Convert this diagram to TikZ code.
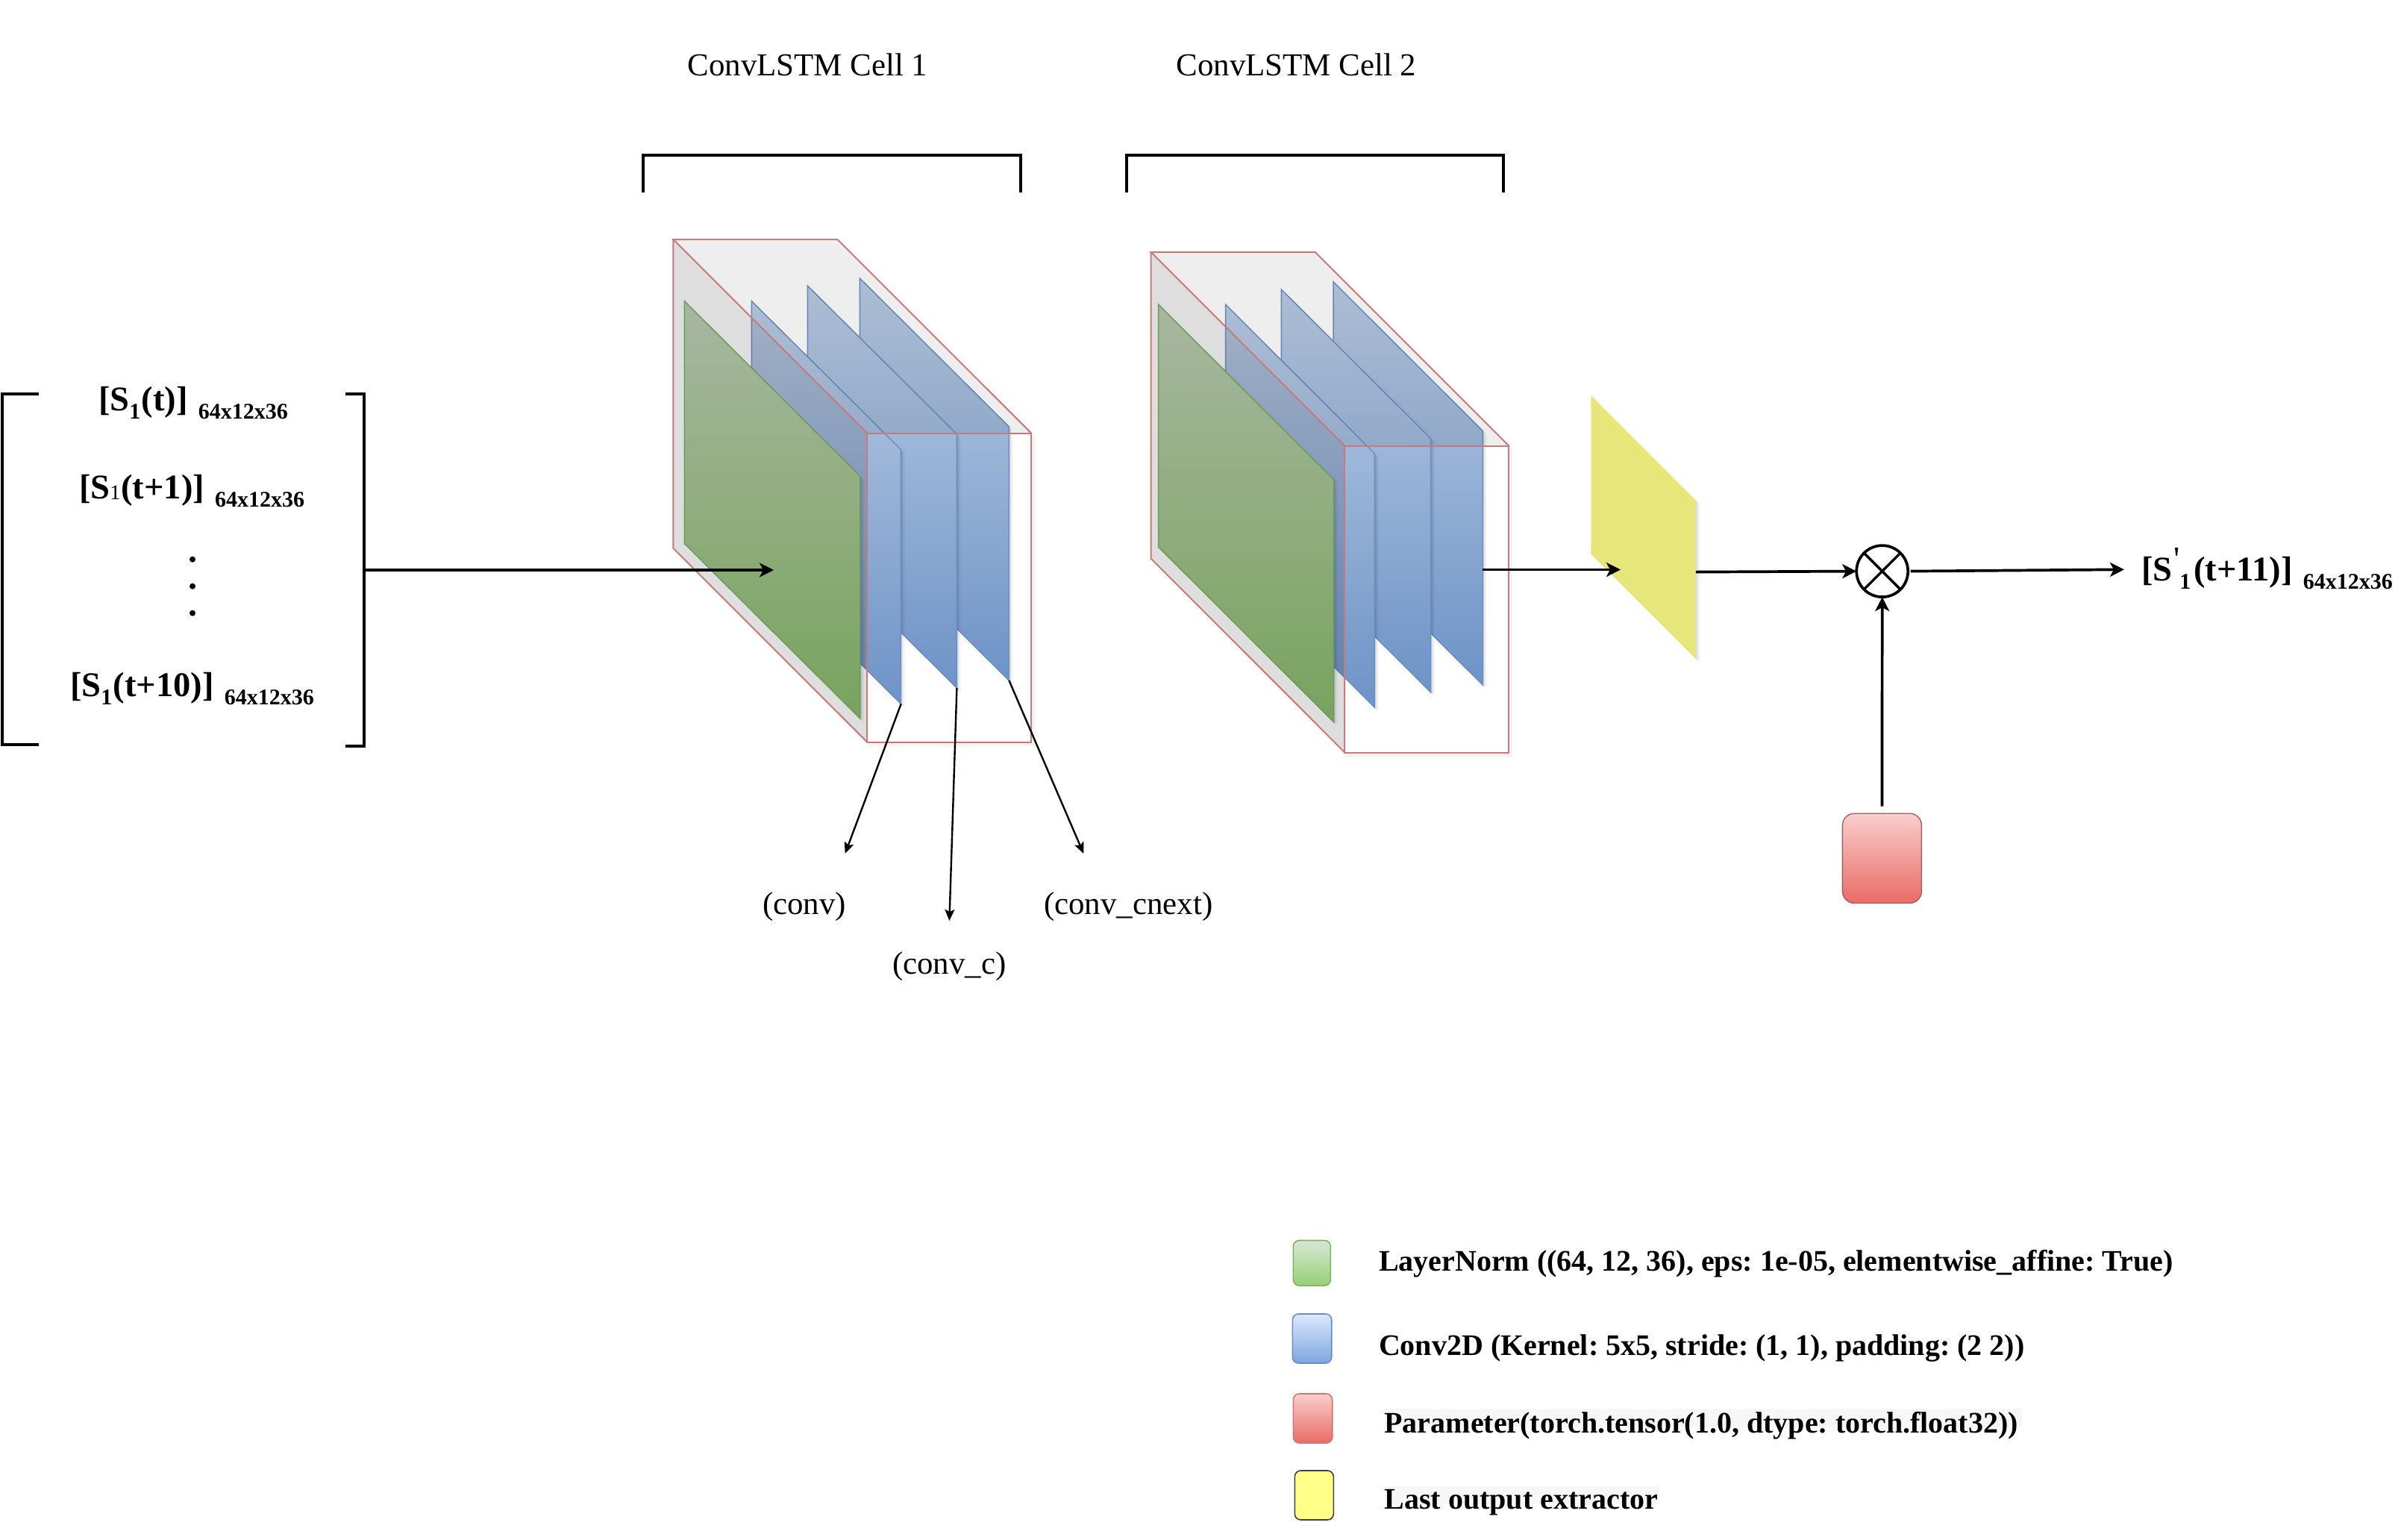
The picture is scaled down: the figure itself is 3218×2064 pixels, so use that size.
\documentclass[tikz,border=0pt]{standalone}
\usepackage{fontspec}
\setmainfont{Liberation Serif}
\usetikzlibrary{arrows.meta}
\frenchspacing
\newcommand{\fsz}[1]{\fontsize{#1}{#1}\selectfont}
\newcommand{\subone}{\raisebox{-11pt}{\fsz{30}1}\kern1.5pt}
\newcommand{\dims}{\hspace{14pt}\raisebox{-11pt}{\fsz{30}64x12x36}}
\definecolor{edgered}{HTML}{C97A78}
\definecolor{edgeblue}{HTML}{6C8EBF}
\definecolor{edgegreen}{HTML}{7FB06A}
\definecolor{blue1top}{HTML}{BACCE4}
\definecolor{blue1bot}{HTML}{6E93C7}
\definecolor{green1top}{HTML}{C1D3B8}
\definecolor{green1bot}{HTML}{8ABC6C}
\definecolor{greenK}{HTML}{D5E8D4}
\definecolor{greenL}{HTML}{97D077}
\definecolor{blueK}{HTML}{DAE8FC}
\definecolor{blueL}{HTML}{7EA6E0}
\definecolor{redK}{HTML}{F8CECC}
\definecolor{redL}{HTML}{EA6B66}
\definecolor{yellowK}{HTML}{FFFF88}
\definecolor{yellowP}{HTML}{E6E67A}
% plane: style, x1, y1, x2, y2, height
\newcommand{\plane}[6]{%
  \fill[black,opacity=.05] ({#2+5},{#3+#6+5}) -- ({#4+5},{#5+#6+5}) -- ({#4+5},{#5+5}) -- ({#4},{#5}) -- ({#2},{#3+#6}) -- cycle;
  \fill[black,opacity=.08] ({#2+2.5},{#3+#6+2.5}) -- ({#4+2.5},{#5+#6+2.5}) -- ({#4+2.5},{#5+2.5}) -- ({#4},{#5}) -- ({#2},{#3+#6}) -- cycle;
  \path[#1] (#2,#3) -- (#4,#5) -- ({#4},{#5+#6}) -- ({#2},{#3+#6}) -- cycle;
}
% translucent cube over the planes: back x, back top, back bottom, front x, front top, front bottom, width
\newcommand{\cubeover}[7]{%
  \fill[black,opacity=.13] (#1,#2) -- (#4,#5) -- (#4,#6) -- (#1,#3) -- cycle;
  \fill[black,opacity=.067] (#1,#2) -- ({#1+#7},#2) -- ({#4+#7},#5) -- (#4,#5) -- cycle;
  \draw[black,opacity=.05,line width=4pt] ({#4+3},{#6+3}) -- ({#4+#7+3},{#6+3}) -- ({#4+#7+3},{#5+3});
  \draw[cubeline] (#4,#5) -- (#1,#2) -- ({#1+#7},#2) -- ({#4+#7},#5);
  \draw[cubeline] (#1,#2) -- (#1,#3) -- (#4,#6);
  \draw[cubeline] (#4,#5) rectangle ({#4+#7},#6);
}
\tikzset{
  cubeline/.style={edgered,line width=2pt,line join=miter},
  blueplane/.style={top color=blue1top,bottom color=blue1bot,draw=edgeblue,line width=1.5pt},
  greenplane/.style={top color=green1top,bottom color=green1bot,draw=edgegreen,line width=1.5pt},
  lbl/.style={anchor=base west,inner sep=0pt,outer sep=0pt,text=black},
  headlabel/.style={lbl,font=\fsz{42.9}},
  mathlabel/.style={lbl,font=\fsz{46.5}\bfseries},
  legendlabel/.style={lbl,font=\fsz{40}\bfseries},
  bracketline/.style={line width=4pt,line cap=butt,line join=miter},
  thick arrow/.style={line width=3.7pt,-{Stealth[length=19pt,width=19pt,inset=5pt]}},
  thin arrow/.style={line width=2.4pt,-{Stealth[length=15pt,width=13pt,inset=3pt]}},
  legendkey/.style={rounded corners=8pt,inner sep=0pt,outer sep=0pt,line width=1.6pt,anchor=north west},
  greenkey/.style={legendkey,draw=#1,top color=greenK,bottom color=greenL,minimum width=50pt,minimum height=60.6pt},
  bluekey/.style={legendkey,draw=#1,top color=blueK,bottom color=blueL,minimum width=52.4pt,minimum height=66pt},
  redkey/.style={legendkey,draw=#1,top color=redK,bottom color=redL,minimum width=52.4pt,minimum height=66pt},
  yellowkey/.style={legendkey,draw=#1,fill=yellowK,minimum width=52pt,minimum height=66pt},
}
\begin{document}
\begin{tikzpicture}[x=1pt,y=-1pt]
\useasboundingbox (0,0) rectangle (3218,2064);

% Cell 1
\plane{blueplane}{1152.3}{372.9}{1352.4}{571.9}{340.3}
\plane{blueplane}{1082.3}{382.9}{1282.4}{581.8}{340.3}
\plane{blueplane}{1007.3}{403.5}{1207.4}{602.5}{340.8}
\plane{greenplane}{917.3}{403.5}{1152.8}{638}{325}
\cubeover{902.4}{320.9}{734.9}{1162.3}{580.7}{994.7}{220}

% Cell 2
\plane{blueplane}{1787.2}{377.9}{1987.4}{577.6}{340.7}
\plane{blueplane}{1717.4}{388}{1917.6}{587.7}{340.2}
\plane{blueplane}{1642.6}{408}{1842.3}{607.9}{340.2}
\plane{greenplane}{1552.6}{408}{1787.7}{642.8}{325.1}
\cubeover{1542.5}{337.8}{748.5}{1802.3}{597.5}{1008.5}{220}

% Last output extractor plane
\plane{fill=yellowP}{2132.4}{530.1}{2272.9}{670.6}{212.5}

% Top brackets and headings
\draw[bracketline] (862.4,257.7) -- (862.4,208.4) -- (1367.7,208.4) -- (1367.7,257.7);
\draw[bracketline] (1510.1,257.7) -- (1510.1,208.4) -- (2014.9,208.4) -- (2014.9,257.7);
\node[headlabel] (cellA) at (921.5,101) {ConvLSTM Cell 1};
\node[headlabel] (cellB) at (1576.5,101) {ConvLSTM Cell 2};

% Input matrix brackets
\draw[bracketline] (52,527.7) -- (3,527.7) -- (3,998) -- (52,998);
\draw[bracketline] (462.7,527.7) -- (488,527.7) -- (488,1000) -- (462.7,1000);
\coordinate (inR) at (488,764);
\node[mathlabel] (s0) at (132,550.5) {[S\subone(t)]\dims};
\node[mathlabel] (s1) at (106,668.5) {[S\raisebox{-1pt}{\fsz{28}\mdseries 1}\kern1pt(t+1)]\dims};
\node[mathlabel] (s2) at (94,933.5) {[S\subone(t+10)]\dims};
\fill (258,749.7) circle (4) (258,785.7) circle (4) (258,821.7) circle (4);

% Arrows through the cells
\coordinate (cellAin) at (1037,764);
\draw[thick arrow] (inR) -- (cellAin);
\coordinate (cellBout) at (1987.4,763.5);
\coordinate (yellowIn) at (2172,763.5);
\draw[thick arrow] (cellBout) -- (yellowIn);

% Multiplication
\node[draw,circle,minimum size=69pt,inner sep=0pt,outer sep=0pt,line width=3.7pt] (mult) at (2522.7,765.6) {};
\draw[line width=3.4pt] (mult.45) -- (mult.225) (mult.135) -- (mult.315);
\coordinate (yellowOut) at (2272.9,766.6);
\draw[thick arrow] (yellowOut) -- (mult.west);
\node[draw=edgered!80!black,rounded corners=16pt,inner sep=0pt,outer sep=0pt,line width=1.4pt,minimum width=106pt,minimum height=120.3pt,top color=redK,bottom color=redL,anchor=north west] (par) at (2469.4,1090.2) {};
\draw[thick arrow,shorten <=9.6pt] (par.north) -- (mult.south);
\node[mathlabel] (out) at (2870,778.8) {[S\rlap{\hspace{2pt}\raisebox{14pt}{\fsz{46}\mdseries\textquotesingle}}\hspace{10pt}\raisebox{-11pt}{\fsz{30}1}\kern4pt(t+11)]\dims};
\coordinate (outTip) at (2847,763.3);
\draw[thick arrow,shorten <=3.5pt] (mult.east) -- (outTip);

% Conv branches
\coordinate (bA) at (1207.7,943.3);
\coordinate (bB) at (1282.4,922);
\coordinate (bC) at (1352.4,912);
\coordinate (tipA) at (1132.7,1144);
\coordinate (tipB) at (1272.4,1234);
\coordinate (tipC) at (1452.3,1144);
\draw[thin arrow] (bA) -- (tipA);
\draw[thin arrow] (bB) -- (tipB);
\draw[thin arrow] (bC) -- (tipC);
\node[headlabel] (convA) at (1022,1225.7) {(conv)};
\node[headlabel] (convB) at (1196,1305.7) {(conv\_c)};
\node[headlabel] (convC) at (1399,1225.7) {(conv\_cnext)};

% Legend
\fill[black!3] (1856,1888) rectangle (2710,1913);
\fill[black!3] (1856,1991.7) rectangle (2223,2016);
\node[greenkey=edgegreen] (kG) at (1733.3,1662.5) {};
\node[bluekey=edgeblue] (kB) at (1732.3,1761) {};
\node[redkey=edgered] (kR) at (1733.3,1868) {};
\node[yellowkey=black!75] (kY) at (1735.3,1971) {};
\node[legendlabel] (tG) at (1848,1703) {LayerNorm ((64, 12, 36), eps: 1e-05, elementwise\_affine: True)};
\node[legendlabel] (tB) at (1848,1816) {Conv2D (Kernel: 5x5, stride: (1, 1), padding: (2 2))};
\node[legendlabel] (tR) at (1855.5,1920) {Parameter(torch.tensor(1.0, dtype: torch.float32))};
\node[legendlabel] (tY) at (1855.5,2022) {Last output extractor};
\end{tikzpicture}
\end{document}
